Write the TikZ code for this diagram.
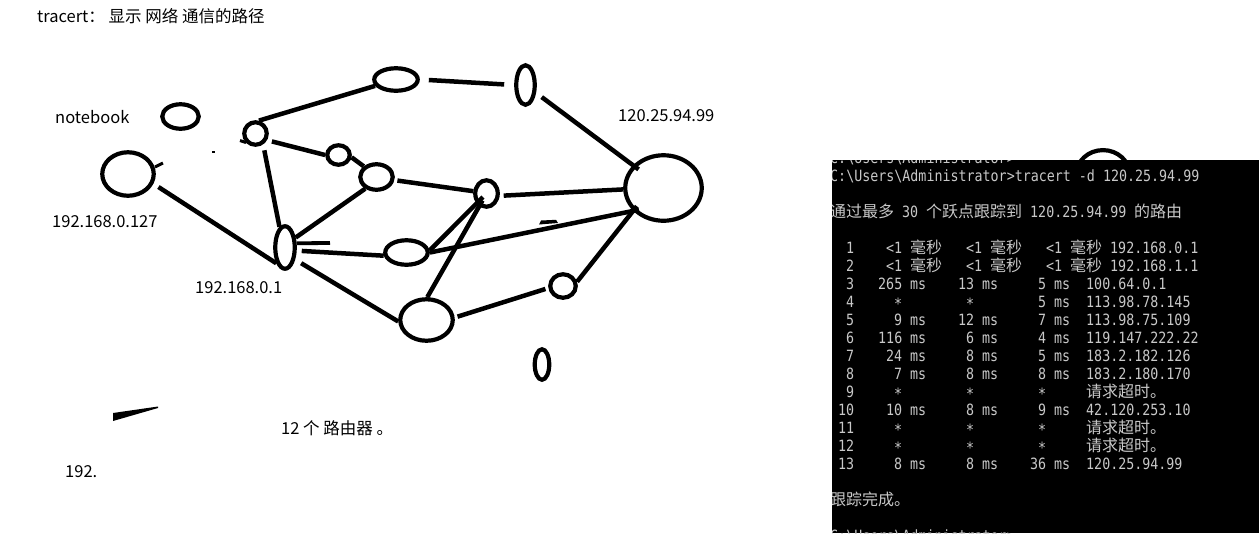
\documentclass[tikz,border=0pt]{standalone}
\usepackage{fontspec}
\usetikzlibrary{shapes.geometric}
\newfontfamily\uifont{Noto Sans CJK SC}
\newfontfamily\monofont{DejaVu Sans Mono}[FakeStretch=0.86]
\newfontfamily\cjkmono{Noto Sans CJK SC}
\definecolor{consfg}{RGB}{200,200,200}
\tikzset{
  router/.style={draw=black, ellipse, line width=4.2pt, inner sep=0pt},
  link/.style={line width=4.5pt},
  lbl/.style={anchor=base west, inner sep=0pt, font=\uifont\fontsize{16.5}{18}\selectfont},
  ctxt/.style={anchor=base west, inner sep=0pt, text=consfg, font=\monofont\fontsize{15.5}{16}\selectfont},
}
% console cell: column, line, text
\newcommand\cl[3]{\node[ctxt] (c#2x#1) at ({830+8*(#1)},{181+18*((#2)-1)}) {#3};}
\newcommand\zh[1]{{\cjkmono\fontsize{16}{16}\selectfont #1}}
\newcommand\starmark{\raisebox{-2.5pt}{*}}
\begin{document}
\begin{tikzpicture}[x=1pt,y=-1pt]
\useasboundingbox (0,0) rectangle (1259,542);

% labels
\node[lbl] (title) at (37,22) {tracert： 显示 网络 通信的路径};
\node[lbl] (nbl) at (55,123) {notebook};
\node[lbl] (pcl) at (52,227) {192.168.0.127};
\node[lbl] (gwl) at (195,293) {192.168.0.1};
\node[lbl] (dstl) at (618,121) {120.25.94.99};
\node[lbl] (cnt) at (281,434) {12 个 路由器 。};
\node[lbl] (frag) at (65,477) {192.};

% hosts and routers
\node[router, minimum width=36.5pt, minimum height=24.5pt] (nb) at (180.5,116.5) {};
\node[router, minimum width=51.5pt, minimum height=43.5pt] (pc) at (128,174) {};
\node[router, minimum width=22.5pt, minimum height=22.5pt] (A) at (255.5,133.5) {};
\node[router, minimum width=43.5pt, minimum height=22.5pt] (B) at (396,79.5) {};
\node[router, minimum width=18.5pt, minimum height=39.5pt] (C) at (525.5,85) {};
\node[router, minimum width=76.5pt, minimum height=65.5pt] (D) at (663.5,188) {};
\node[router, minimum width=22.5pt, minimum height=19.5pt] (E) at (338.5,155) {};
\node[router, minimum width=32.5pt, minimum height=25.5pt] (F) at (376.5,177) {};
\node[router, minimum width=22.5pt, minimum height=26.5pt] (G) at (486.5,193.5) {};
\node[router, minimum width=19.5pt, minimum height=42.5pt] (H) at (285,247.5) {};
\node[router, minimum width=42.5pt, minimum height=24.5pt] (I) at (406.5,252.5) {};
\node[router, minimum width=52.5pt, minimum height=41.5pt] (J) at (426.5,320) {};
\node[router, minimum width=25.5pt, minimum height=23.5pt] (K) at (563,286) {};
\node[router, minimum width=14.5pt, minimum height=30.5pt] (L) at (542,364.5) {};
\node[router, minimum width=53.8pt, minimum height=49.8pt] (hid) at (1103,175) {};

% links
\draw[link] (A.75) -- (B.197);
\draw[link, shorten <=9pt, shorten >=10pt] (B.east) -- (C.west);
\draw[link, shorten <=7pt, shorten >=-7pt] (C) -- (D);
\draw[link, shorten <=5pt] (A.-30) -- (E.west);
\draw[link] (E.-10) -- (F.140);
\draw[link, shorten <=3pt] (F.-10) -- (G.170);
\draw[link, shorten <=4pt] (G.-10) -- (D.182);
\draw[link, shorten <=6pt] (A.-55) -- (H.105);
\draw[link, shorten <=6pt] (pc.-21) -- (H.241);
\draw[link] (H.43) -- (F.226);
\coordinate (Hstub) at (330,243);
\draw[link, line width=3.8pt] (H.20) -- (Hstub);
\draw[link, shorten <=5pt] (H.-15) -- (I.188);
\draw[link, shorten >=5pt] (I.5) -- (G.center);
\draw[link, shorten >=-6pt] (I.0) -- (D.217);
\draw[link, shorten <=7pt] (H.-50) -- (J.183);
\draw[link, shorten >=8pt] (J.88) -- (G.center);
\draw[link, shorten <=3pt, shorten >=3pt] (J.5) -- (K.188);
\draw[link, shorten >=-6pt] (K.17) -- (D.217);

% stray pen marks
\fill (539,224.5) -- (541,220.5) -- (556,219.8) -- (558,223) -- cycle;
\draw[line width=3pt] (155,167) -- (163,163);
\draw[line width=3pt] (240,140.5) -- (246,142.5);
\fill (212,151) rectangle (215,152.5);
\fill (113,421) -- (113,413) -- (158,406.5) -- (158,408) -- cycle;

% console window
\begin{scope}
\clip (832,160) rectangle (1259,533);
\fill[black] (832,160) rectangle (1259,533);
\cl{0}{0}{C:\textbackslash Users\textbackslash Administrator>}
\cl{0}{1}{C:\textbackslash Users\textbackslash Administrator>tracert -d 120.25.94.99}
\cl{0}{3}{\zh{通过最多}}\cl{9}{3}{30}\cl{12}{3}{\zh{个跃点跟踪到}}\cl{25}{3}{120.25.94.99}\cl{38}{3}{\zh{的路由}}
\cl{2}{5}{1}\cl{7}{5}{<1}\cl{10}{5}{\zh{毫秒}}\cl{17}{5}{<1}\cl{20}{5}{\zh{毫秒}}\cl{27}{5}{<1}\cl{30}{5}{\zh{毫秒}}\cl{35}{5}{192.168.0.1}
\cl{2}{6}{2}\cl{7}{6}{<1}\cl{10}{6}{\zh{毫秒}}\cl{17}{6}{<1}\cl{20}{6}{\zh{毫秒}}\cl{27}{6}{<1}\cl{30}{6}{\zh{毫秒}}\cl{35}{6}{192.168.1.1}
\cl{2}{7}{3}\cl{6}{7}{265}\cl{10}{7}{ms}\cl{16}{7}{13}\cl{19}{7}{ms}\cl{26}{7}{5}\cl{28}{7}{ms}\cl{32}{7}{100.64.0.1}
\cl{2}{8}{4}\cl{8}{8}{\starmark}\cl{17}{8}{\starmark}\cl{26}{8}{5}\cl{28}{8}{ms}\cl{32}{8}{113.98.78.145}
\cl{2}{9}{5}\cl{8}{9}{9}\cl{10}{9}{ms}\cl{16}{9}{12}\cl{19}{9}{ms}\cl{26}{9}{7}\cl{28}{9}{ms}\cl{32}{9}{113.98.75.109}
\cl{2}{10}{6}\cl{6}{10}{116}\cl{10}{10}{ms}\cl{17}{10}{6}\cl{19}{10}{ms}\cl{26}{10}{4}\cl{28}{10}{ms}\cl{32}{10}{119.147.222.22}
\cl{2}{11}{7}\cl{7}{11}{24}\cl{10}{11}{ms}\cl{17}{11}{8}\cl{19}{11}{ms}\cl{26}{11}{5}\cl{28}{11}{ms}\cl{32}{11}{183.2.182.126}
\cl{2}{12}{8}\cl{8}{12}{7}\cl{10}{12}{ms}\cl{17}{12}{8}\cl{19}{12}{ms}\cl{26}{12}{8}\cl{28}{12}{ms}\cl{32}{12}{183.2.180.170}
\cl{2}{13}{9}\cl{8}{13}{\starmark}\cl{17}{13}{\starmark}\cl{26}{13}{\starmark}\cl{32}{13}{\zh{请求超时。}}
\cl{1}{14}{10}\cl{7}{14}{10}\cl{10}{14}{ms}\cl{17}{14}{8}\cl{19}{14}{ms}\cl{26}{14}{9}\cl{28}{14}{ms}\cl{32}{14}{42.120.253.10}
\cl{1}{15}{11}\cl{8}{15}{\starmark}\cl{17}{15}{\starmark}\cl{26}{15}{\starmark}\cl{32}{15}{\zh{请求超时。}}
\cl{1}{16}{12}\cl{8}{16}{\starmark}\cl{17}{16}{\starmark}\cl{26}{16}{\starmark}\cl{32}{16}{\zh{请求超时。}}
\cl{1}{17}{13}\cl{8}{17}{8}\cl{10}{17}{ms}\cl{17}{17}{8}\cl{19}{17}{ms}\cl{25}{17}{36}\cl{28}{17}{ms}\cl{32}{17}{120.25.94.99}
\cl{0}{19}{\zh{跟踪完成。}}
\cl{0}{21}{C:\textbackslash Users\textbackslash Administrator>}
\end{scope}
\end{tikzpicture}
\end{document}
